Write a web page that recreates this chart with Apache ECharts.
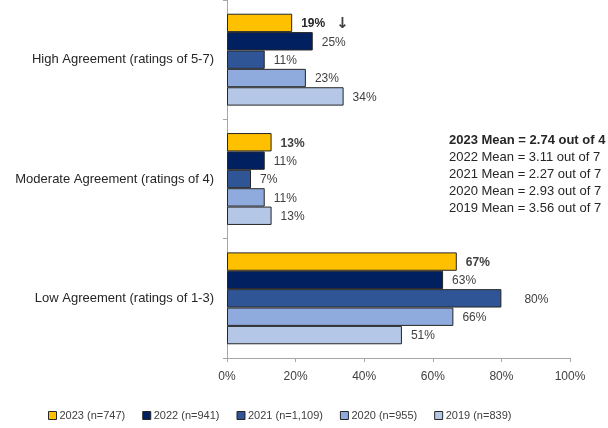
<!DOCTYPE html>
<html><head><meta charset="utf-8">
<script src="https://cdn.jsdelivr.net/npm/echarts@6/dist/echarts.min.js"></script>
<style>html,body{margin:0;padding:0;background:#fff}#c{width:608px;height:428px}</style>
</head><body><div id="c"></div>
<script>
const categories = ['High Agreement (ratings of 5-7)', 'Moderate Agreement (ratings of 4)', 'Low Agreement (ratings of 1-3)'];
const seriesNames = ['2023 (n=747)', '2022 (n=941)', '2021 (n=1,109)', '2020 (n=955)', '2019 (n=839)'];
const v2023 = [19, 13, 67];
const v2022 = [25, 11, 63];
const v2021 = [11, 7, 80];
const v2020 = [23, 11, 66];
const v2019 = [34, 13, 51];
const xTicks = [0, 20, 40, 60, 80, 100];
const meanLines = ['2023 Mean = 2.74 out of 4', '2022 Mean = 3.11 out of 7', '2021 Mean = 2.27 out of 7', '2020 Mean = 2.93 out of 7', '2019 Mean = 3.56 out of 7'];

const colors = ['#FFC000', '#002060', '#2F5597', '#8FAADC', '#B4C7E7'];
const values = [v2023, v2022, v2021, v2020, v2019];
const FONT = 'Liberation Sans';

const chart = echarts.init(document.getElementById('c'), null, {renderer: 'canvas'});
const series = values.map((vals, si) => ({
  name: seriesNames[si],
  type: 'bar',
  barGap: '0%',
  barCategoryGap: '23%',
  itemStyle: {color: colors[si], borderColor: '#262626', borderWidth: 1},
  data: vals.map((v, ci) => {
    const d = {value: v};
    if (si === 0 && ci === 0) {
      d.label = {formatter: '{b|{c}%}{s|}{a|↓}'};
    }
    if (si === 2 && ci === 2) {
      d.label = {offset: [14, 1]};
    }
    return d;
  }),
  label: {
    show: true,
    position: 'right',
    distance: 9,
    offset: [0, 1],
    fontFamily: FONT,
    fontSize: 12,
    color: '#404040',
    fontWeight: si === 0 ? 'bold' : 'normal',
    formatter: '{c}%',
    rich: {
      b: {fontFamily: FONT, fontSize: 12, fontWeight: 'bold', color: '#262626'},
      s: {width: 11},
      a: {fontFamily: 'DejaVu Sans', fontSize: 15, color: '#404040'}
    }
  }
}));

chart.setOption({
  animation: false,
  textStyle: {fontFamily: FONT},
  grid: {left: 227, top: 0, width: 343, height: 358, containLabel: false},
  legend: {
    left: 48, top: 410, padding: 0,
    itemWidth: 8, itemHeight: 8, itemGap: 17,
    icon: 'rect',
    itemStyle: {borderColor: '#262626', borderWidth: 1},
    textStyle: {fontFamily: FONT, fontSize: 11, color: '#404040', padding: [0, 0, 0, -2]},
    data: seriesNames
  },
  xAxis: {
    type: 'value', min: 0, max: 100, interval: 20,
    splitLine: {show: false},
    axisLine: {show: true, lineStyle: {color: '#A6A6A6'}},
    axisTick: {show: true, length: 4, lineStyle: {color: '#A6A6A6'}},
    axisLabel: {fontFamily: FONT, fontSize: 12, color: '#404040', margin: 13,
      formatter: v => xTicks.includes(v) ? v + '%' : ''}
  },
  yAxis: {
    type: 'category', inverse: true, data: categories,
    axisLine: {show: true, lineStyle: {color: '#A6A6A6'}},
    axisTick: {show: true, length: 4, lineStyle: {color: '#A6A6A6'}},
    axisLabel: {fontFamily: FONT, fontSize: 13, color: '#262626', margin: 13}
  },
  graphic: meanLines.map((t, i) => ({
    type: 'text', left: 449, top: 134 + i * 17,
    style: {text: t, fontFamily: FONT, fontSize: 13, fill: '#262626', fontWeight: i === 0 ? 'bold' : 'normal'}
  })),
  series: series
});
</script></body></html>
